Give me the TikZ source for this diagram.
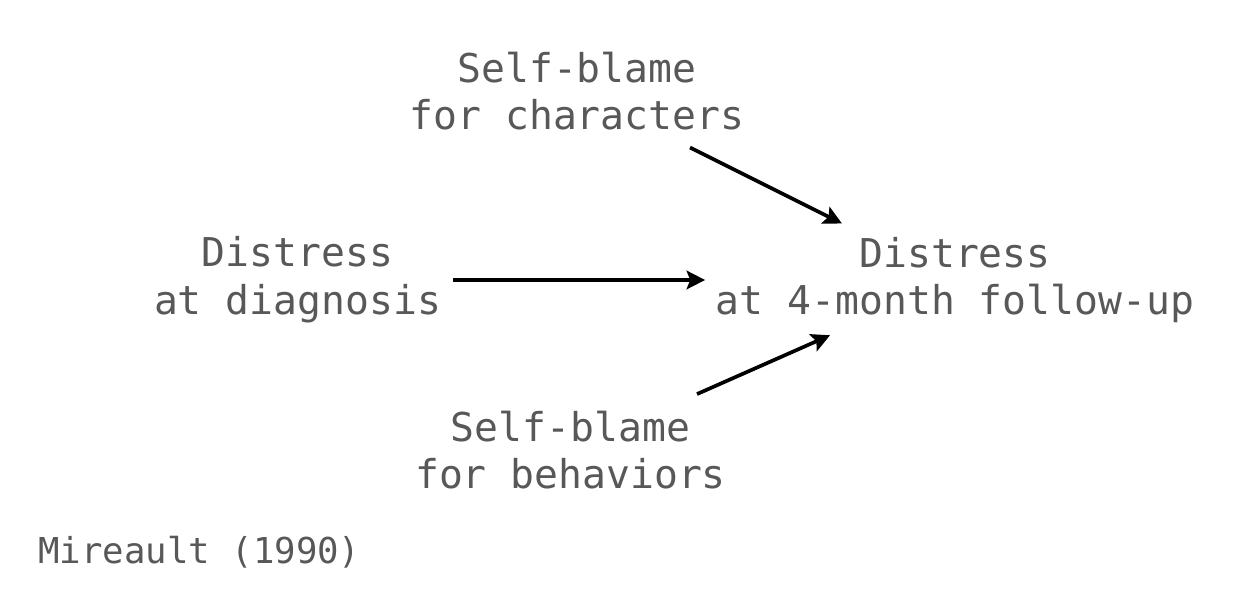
\documentclass[tikz,border=0pt]{standalone}
\usepackage{fontspec}
\setmonofont{DejaVu Sans Mono}
\usetikzlibrary{arrows.meta, calc}
\definecolor{labelgray}{RGB}{88, 88, 88}

\tikzset{
    var/.style={font=\ttfamily\fontsize{22.6}{27.2}\selectfont, text=labelgray, align=center, inner sep=0pt},
    path/.style={-{Stealth[length=10.5pt, width=10.5pt, inset=2pt]}, line width=2.1pt, black}
}

\begin{document}
\begin{tikzpicture}[x=0.02cm, y=-0.02cm]
        \useasboundingbox (0,0) rectangle (1256,614);

        % Variables
        \node[var] (sbchar) at (577,91) {Self-blame\\for characters};
        \node[var] (dxdiag) at (297.5,280) {Distress\\at diagnosis};
        \node[var] (dxfollow) at (955,280) {Distress\\at 4-month follow-up};
        \node[var] (sbbeh) at (570.5,450) {Self-blame\\for behaviors};

        % Paths
        \draw[path] ($(sbchar)!0.299!(dxfollow)$) -- ($(sbchar)!0.701!(dxfollow)$);
        \draw[path] ($(dxdiag)!0.2365!(dxfollow)$) -- ($(dxdiag)!0.62!(dxfollow)$);
        \draw[path] ($(sbbeh)!0.329!(dxfollow)$) -- ($(sbbeh)!0.675!(dxfollow)$);

        % Source
        \node[font=\ttfamily\fontsize{20.3}{24}\selectfont, text=labelgray, anchor=base west, inner sep=0pt] (cite) at (38,563) {Mireault (1990)};
    \end{tikzpicture}
\end{document}
